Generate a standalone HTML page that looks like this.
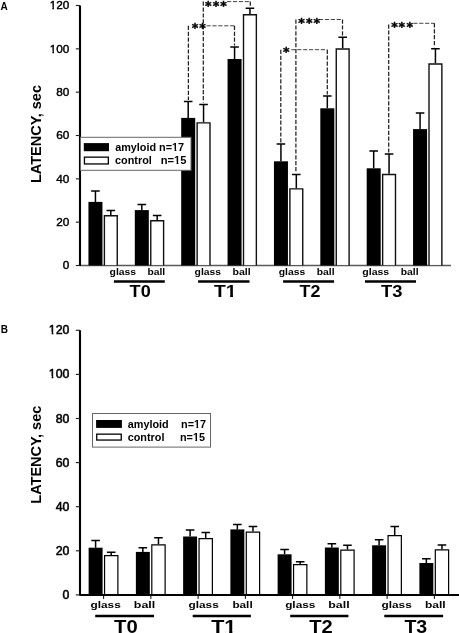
<!DOCTYPE html><html><head><meta charset="utf-8"><title>Latency</title><style>html,body{margin:0;padding:0;background:#fff;}svg{display:block;filter:blur(0.35px);}</style></head><body>
<svg width="459" height="633" viewBox="0 0 459 633">
<rect width="459" height="633" fill="#fff"/>
<path d="M79.5 265.5H451" stroke="#5a5a5a" stroke-width="1.4" fill="none"/>
<path d="M95.44 201.9V190.9M91.14 190.9H99.74" stroke="#000" stroke-width="1.5" fill="none"/>
<path d="M110.81 215.1V210.6M106.51 210.6H115.11" stroke="#000" stroke-width="1.5" fill="none"/>
<rect x="88.44" y="201.9" width="14.01" height="63.6" fill="#000"/>
<rect x="104.39" y="215.8" width="12.85" height="49" fill="#fff"/>
<path d="M104.39 265.5V215.8H117.24V265.5" fill="none" stroke="#111" stroke-width="1.4" stroke-linejoin="miter" stroke-linecap="butt"/>
<path d="M141.82 210.1V204.6M137.52 204.6H146.12" stroke="#000" stroke-width="1.5" fill="none"/>
<path d="M157.19 220V215.6M152.89 215.6H161.49" stroke="#000" stroke-width="1.5" fill="none"/>
<rect x="134.81" y="210.1" width="14.01" height="55.4" fill="#000"/>
<rect x="150.76" y="220.7" width="12.85" height="44.1" fill="#fff"/>
<path d="M150.76 265.5V220.7H163.61V265.5" fill="none" stroke="#111" stroke-width="1.4" stroke-linejoin="miter" stroke-linecap="butt"/>
<path d="M188.19 117.9V101.4M183.89 101.4H192.49" stroke="#000" stroke-width="1.5" fill="none"/>
<path d="M203.56 122.2V104.5M199.26 104.5H207.86" stroke="#000" stroke-width="1.5" fill="none"/>
<rect x="181.19" y="117.9" width="14.01" height="147.6" fill="#000"/>
<rect x="197.14" y="122.9" width="12.85" height="141.9" fill="#fff"/>
<path d="M197.14 265.5V122.9H209.99V265.5" fill="none" stroke="#111" stroke-width="1.4" stroke-linejoin="miter" stroke-linecap="butt"/>
<path d="M234.57 59V47.1M230.27 47.1H238.87" stroke="#000" stroke-width="1.5" fill="none"/>
<path d="M249.94 14.1V8.25M245.64 8.25H254.24" stroke="#000" stroke-width="1.5" fill="none"/>
<rect x="227.56" y="59" width="14.01" height="206.5" fill="#000"/>
<rect x="243.51" y="14.8" width="12.85" height="250" fill="#fff"/>
<path d="M243.51 265.5V14.8H256.36V265.5" fill="none" stroke="#111" stroke-width="1.4" stroke-linejoin="miter" stroke-linecap="butt"/>
<path d="M280.94 161.3V144.1M276.64 144.1H285.24" stroke="#000" stroke-width="1.5" fill="none"/>
<path d="M296.31 188.2V174.5M292.01 174.5H300.61" stroke="#000" stroke-width="1.5" fill="none"/>
<rect x="273.94" y="161.3" width="14.01" height="104.2" fill="#000"/>
<rect x="289.89" y="188.9" width="12.85" height="75.9" fill="#fff"/>
<path d="M289.89 265.5V188.9H302.74V265.5" fill="none" stroke="#111" stroke-width="1.4" stroke-linejoin="miter" stroke-linecap="butt"/>
<path d="M327.32 108.3V96M323.02 96H331.62" stroke="#000" stroke-width="1.5" fill="none"/>
<path d="M342.69 48.3V37.2M338.39 37.2H346.99" stroke="#000" stroke-width="1.5" fill="none"/>
<rect x="320.31" y="108.3" width="14.01" height="157.2" fill="#000"/>
<rect x="336.26" y="49" width="12.85" height="215.8" fill="#fff"/>
<path d="M336.26 265.5V49H349.11V265.5" fill="none" stroke="#111" stroke-width="1.4" stroke-linejoin="miter" stroke-linecap="butt"/>
<path d="M373.69 168.3V151M369.39 151H377.99" stroke="#000" stroke-width="1.5" fill="none"/>
<path d="M389.06 173.8V154M384.76 154H393.36" stroke="#000" stroke-width="1.5" fill="none"/>
<rect x="366.69" y="168.3" width="14.01" height="97.2" fill="#000"/>
<rect x="382.64" y="174.5" width="12.85" height="90.3" fill="#fff"/>
<path d="M382.64 265.5V174.5H395.49V265.5" fill="none" stroke="#111" stroke-width="1.4" stroke-linejoin="miter" stroke-linecap="butt"/>
<path d="M420.07 129.1V113M415.77 113H424.37" stroke="#000" stroke-width="1.5" fill="none"/>
<path d="M435.44 63.3V48.8M431.14 48.8H439.74" stroke="#000" stroke-width="1.5" fill="none"/>
<rect x="413.06" y="129.1" width="14.01" height="136.4" fill="#000"/>
<rect x="429.01" y="64" width="12.85" height="200.8" fill="#fff"/>
<path d="M429.01 265.5V64H441.86V265.5" fill="none" stroke="#111" stroke-width="1.4" stroke-linejoin="miter" stroke-linecap="butt"/>
<path d="M80 5.5V266" stroke="#000" stroke-width="2.1" fill="none"/>
<path d="M75.8 265.5H80" stroke="#222" stroke-width="1.15" fill="none"/>
<text transform="translate(69.4 269.39) scale(1.0 1)" text-anchor="end" font-family='"Liberation Sans", Arial, sans-serif' font-size="11.8" stroke="#000" stroke-width="0.42">0</text>
<path d="M75.8 222.17H80" stroke="#222" stroke-width="1.15" fill="none"/>
<text transform="translate(69.4 226.06) scale(1.0 1)" text-anchor="end" font-family='"Liberation Sans", Arial, sans-serif' font-size="11.8" stroke="#000" stroke-width="0.42">20</text>
<path d="M75.8 178.83H80" stroke="#222" stroke-width="1.15" fill="none"/>
<text transform="translate(69.4 182.73) scale(1.0 1)" text-anchor="end" font-family='"Liberation Sans", Arial, sans-serif' font-size="11.8" stroke="#000" stroke-width="0.42">40</text>
<path d="M75.8 135.5H80" stroke="#222" stroke-width="1.15" fill="none"/>
<text transform="translate(69.4 139.39) scale(1.0 1)" text-anchor="end" font-family='"Liberation Sans", Arial, sans-serif' font-size="11.8" stroke="#000" stroke-width="0.42">60</text>
<path d="M75.8 92.16H80" stroke="#222" stroke-width="1.15" fill="none"/>
<text transform="translate(69.4 96.06) scale(1.0 1)" text-anchor="end" font-family='"Liberation Sans", Arial, sans-serif' font-size="11.8" stroke="#000" stroke-width="0.42">80</text>
<path d="M75.8 48.83H80" stroke="#222" stroke-width="1.15" fill="none"/>
<clipPath id="nf1"><path clip-rule="evenodd" d="M-69.69 -35.4H50V23.6H-69.69Z M-19.69 -2.24H-17V1.18H-19.69Z M-15.42 -2.24H-12.61V1.18H-15.42Z"/></clipPath>
<text transform="translate(69.4 52.72) scale(1.0 1)" text-anchor="end" font-family='"Liberation Sans", Arial, sans-serif' font-size="11.8" stroke="#000" stroke-width="0.42" clip-path="url(#nf1)">100</text>
<path d="M75.8 5.5H80" stroke="#222" stroke-width="1.15" fill="none"/>
<clipPath id="nf2"><path clip-rule="evenodd" d="M-69.69 -35.4H50V23.6H-69.69Z M-19.69 -2.24H-17V1.18H-19.69Z M-15.42 -2.24H-12.61V1.18H-15.42Z"/></clipPath>
<text transform="translate(69.4 9.39) scale(1.0 1)" text-anchor="end" font-family='"Liberation Sans", Arial, sans-serif' font-size="11.8" stroke="#000" stroke-width="0.42" clip-path="url(#nf2)">120</text>
<path d="M79.5 594.9H459" stroke="#000" stroke-width="2.0" fill="none"/>
<path d="M95.6 547.7V540.6M91.3 540.6H99.9" stroke="#000" stroke-width="1.5" fill="none"/>
<path d="M111.21 555.1V552.2M106.91 552.2H115.51" stroke="#000" stroke-width="1.5" fill="none"/>
<rect x="88.62" y="547.7" width="13.95" height="47.2" fill="#000"/>
<rect x="104.55" y="555.7" width="13.31" height="38.2" fill="#fff"/>
<path d="M104.55 594.9V555.7H117.87V594.9" fill="none" stroke="#000" stroke-width="1.2" stroke-linejoin="miter" stroke-linecap="butt"/>
<path d="M142.85 551.9V547.8M138.55 547.8H147.15" stroke="#000" stroke-width="1.5" fill="none"/>
<path d="M158.46 544.2V537.8M154.16 537.8H162.76" stroke="#000" stroke-width="1.5" fill="none"/>
<rect x="135.88" y="551.9" width="13.95" height="43" fill="#000"/>
<rect x="151.81" y="544.8" width="13.31" height="49.1" fill="#fff"/>
<path d="M151.81 594.9V544.8H165.12V594.9" fill="none" stroke="#000" stroke-width="1.2" stroke-linejoin="miter" stroke-linecap="butt"/>
<path d="M190.1 536.5V530M185.8 530H194.4" stroke="#000" stroke-width="1.5" fill="none"/>
<path d="M205.71 538V532.4M201.41 532.4H210.01" stroke="#000" stroke-width="1.5" fill="none"/>
<rect x="183.12" y="536.5" width="13.95" height="58.4" fill="#000"/>
<rect x="199.06" y="538.6" width="13.31" height="55.3" fill="#fff"/>
<path d="M199.06 594.9V538.6H212.37V594.9" fill="none" stroke="#000" stroke-width="1.2" stroke-linejoin="miter" stroke-linecap="butt"/>
<path d="M237.35 529.4V524.4M233.05 524.4H241.65" stroke="#000" stroke-width="1.5" fill="none"/>
<path d="M252.96 531.5V526.6M248.66 526.6H257.26" stroke="#000" stroke-width="1.5" fill="none"/>
<rect x="230.38" y="529.4" width="13.95" height="65.5" fill="#000"/>
<rect x="246.31" y="532.1" width="13.31" height="61.8" fill="#fff"/>
<path d="M246.31 594.9V532.1H259.61V594.9" fill="none" stroke="#000" stroke-width="1.2" stroke-linejoin="miter" stroke-linecap="butt"/>
<path d="M284.6 554.3V549.6M280.3 549.6H288.9" stroke="#000" stroke-width="1.5" fill="none"/>
<path d="M300.21 564V561.8M295.91 561.8H304.51" stroke="#000" stroke-width="1.5" fill="none"/>
<rect x="277.62" y="554.3" width="13.95" height="40.6" fill="#000"/>
<rect x="293.56" y="564.6" width="13.31" height="29.3" fill="#fff"/>
<path d="M293.56 594.9V564.6H306.86V594.9" fill="none" stroke="#000" stroke-width="1.2" stroke-linejoin="miter" stroke-linecap="butt"/>
<path d="M331.85 547.5V543.8M327.55 543.8H336.15" stroke="#000" stroke-width="1.5" fill="none"/>
<path d="M347.46 549.6V545.3M343.16 545.3H351.76" stroke="#000" stroke-width="1.5" fill="none"/>
<rect x="324.88" y="547.5" width="13.95" height="47.4" fill="#000"/>
<rect x="340.81" y="550.2" width="13.31" height="43.7" fill="#fff"/>
<path d="M340.81 594.9V550.2H354.11V594.9" fill="none" stroke="#000" stroke-width="1.2" stroke-linejoin="miter" stroke-linecap="butt"/>
<path d="M379.1 545.3V539.7M374.8 539.7H383.4" stroke="#000" stroke-width="1.5" fill="none"/>
<path d="M394.71 535V526.6M390.41 526.6H399.01" stroke="#000" stroke-width="1.5" fill="none"/>
<rect x="372.12" y="545.3" width="13.95" height="49.6" fill="#000"/>
<rect x="388.06" y="535.6" width="13.31" height="58.3" fill="#fff"/>
<path d="M388.06 594.9V535.6H401.36V594.9" fill="none" stroke="#000" stroke-width="1.2" stroke-linejoin="miter" stroke-linecap="butt"/>
<path d="M426.35 563V558.7M422.05 558.7H430.65" stroke="#000" stroke-width="1.5" fill="none"/>
<path d="M441.96 549.2V545.1M437.66 545.1H446.26" stroke="#000" stroke-width="1.5" fill="none"/>
<rect x="419.38" y="563" width="13.95" height="31.9" fill="#000"/>
<rect x="435.31" y="549.8" width="13.31" height="44.1" fill="#fff"/>
<path d="M435.31 594.9V549.8H448.61V594.9" fill="none" stroke="#000" stroke-width="1.2" stroke-linejoin="miter" stroke-linecap="butt"/>
<path d="M80 330.3V595.4" stroke="#000" stroke-width="2.1" fill="none"/>
<path d="M75.8 594.9H80" stroke="#222" stroke-width="1.15" fill="none"/>
<text transform="translate(69.4 598.96) scale(1.0 1)" text-anchor="end" font-family='"Liberation Sans", Arial, sans-serif' font-size="12.3" stroke="#000" stroke-width="0.55">0</text>
<path d="M75.8 550.8H80" stroke="#222" stroke-width="1.15" fill="none"/>
<text transform="translate(69.4 554.86) scale(1.0 1)" text-anchor="end" font-family='"Liberation Sans", Arial, sans-serif' font-size="12.3" stroke="#000" stroke-width="0.55">20</text>
<path d="M75.8 506.7H80" stroke="#222" stroke-width="1.15" fill="none"/>
<text transform="translate(69.4 510.76) scale(1.0 1)" text-anchor="end" font-family='"Liberation Sans", Arial, sans-serif' font-size="12.3" stroke="#000" stroke-width="0.55">40</text>
<path d="M75.8 462.6H80" stroke="#222" stroke-width="1.15" fill="none"/>
<text transform="translate(69.4 466.66) scale(1.0 1)" text-anchor="end" font-family='"Liberation Sans", Arial, sans-serif' font-size="12.3" stroke="#000" stroke-width="0.55">60</text>
<path d="M75.8 418.5H80" stroke="#222" stroke-width="1.15" fill="none"/>
<text transform="translate(69.4 422.56) scale(1.0 1)" text-anchor="end" font-family='"Liberation Sans", Arial, sans-serif' font-size="12.3" stroke="#000" stroke-width="0.55">80</text>
<path d="M75.8 374.4H80" stroke="#222" stroke-width="1.15" fill="none"/>
<clipPath id="nf3"><path clip-rule="evenodd" d="M-70.52 -36.9H50V24.6H-70.52Z M-20.52 -2.34H-17.71V1.23H-20.52Z M-16.08 -2.34H-13.14V1.23H-16.08Z"/></clipPath>
<text transform="translate(69.4 378.46) scale(1.0 1)" text-anchor="end" font-family='"Liberation Sans", Arial, sans-serif' font-size="12.3" stroke="#000" stroke-width="0.55" clip-path="url(#nf3)">100</text>
<path d="M75.8 330.3H80" stroke="#222" stroke-width="1.15" fill="none"/>
<clipPath id="nf4"><path clip-rule="evenodd" d="M-70.52 -36.9H50V24.6H-70.52Z M-20.52 -2.34H-17.71V1.23H-20.52Z M-16.08 -2.34H-13.14V1.23H-16.08Z"/></clipPath>
<text transform="translate(69.4 334.36) scale(1.0 1)" text-anchor="end" font-family='"Liberation Sans", Arial, sans-serif' font-size="12.3" stroke="#000" stroke-width="0.55" clip-path="url(#nf4)">120</text>
<path d="M103.62 594.9V598.9" stroke="#000" stroke-width="1" fill="none"/>
<path d="M150.88 594.9V598.9" stroke="#000" stroke-width="1" fill="none"/>
<path d="M198.12 594.9V598.9" stroke="#000" stroke-width="1" fill="none"/>
<path d="M245.38 594.9V598.9" stroke="#000" stroke-width="1" fill="none"/>
<path d="M292.62 594.9V598.9" stroke="#000" stroke-width="1" fill="none"/>
<path d="M339.88 594.9V598.9" stroke="#000" stroke-width="1" fill="none"/>
<path d="M387.12 594.9V598.9" stroke="#000" stroke-width="1" fill="none"/>
<path d="M434.38 594.9V598.9" stroke="#000" stroke-width="1" fill="none"/>
<text transform="translate(40.9 134.05) rotate(-90) scale(1 1.05)" text-anchor="middle" font-family='"Liberation Sans", Arial, sans-serif' font-weight="bold" font-size="14.5">LATENCY, sec</text>
<text transform="translate(40.9 454.7) rotate(-90) scale(1 1.05)" text-anchor="middle" font-family='"Liberation Sans", Arial, sans-serif' font-weight="bold" font-size="14.5">LATENCY, sec</text>
<text x="0.6" y="9.6" font-family='"Liberation Sans", Arial, sans-serif' font-weight="bold" font-size="10">A</text>
<text x="0.8" y="332.6" font-family='"Liberation Sans", Arial, sans-serif' font-weight="bold" font-size="10">B</text>
<rect x="80.5" y="137.3" width="110.5" height="33" fill="#fff" stroke="#666" stroke-width="1"/>
<rect x="83.8" y="143.1" width="25.2" height="8.1" fill="#000"/>
<rect x="84.45" y="157.15" width="23.9" height="6.8" fill="#fff" stroke="#000" stroke-width="1.3"/>
<clipPath id="nf5"><path clip-rule="evenodd" d="M-50 -31.2H116.18V20.8H-50Z M54.62 -1.98H56.96V1.04H54.62Z M58.62 -1.98H60.86V1.04H58.62Z"/></clipPath>
<text transform="translate(115.17 150.8) scale(1.043 1)" font-family='"Liberation Sans", Arial, sans-serif' font-weight="bold" font-size="10.40" clip-path="url(#nf5)">amyloid n=17</text>
<text transform="translate(115.07 163.8) scale(1.043 1)" font-family='"Liberation Sans", Arial, sans-serif' font-weight="bold" font-size="10.40">control</text>
<clipPath id="nf6"><path clip-rule="evenodd" d="M-50 -31.2H73.99V20.8H-50Z M12.43 -1.98H14.77V1.04H12.43Z M16.43 -1.98H18.67V1.04H16.43Z"/></clipPath>
<text transform="translate(160.72 163.8) scale(1.075 1)" font-family='"Liberation Sans", Arial, sans-serif' font-weight="bold" font-size="10.40" clip-path="url(#nf6)">n=15</text>
<rect x="92.5" y="413.5" width="118" height="33.6" fill="#fff" stroke="#666" stroke-width="1"/>
<rect x="96.1" y="420" width="25.8" height="7.9" fill="#000"/>
<rect x="96.75" y="434.15" width="24.5" height="5.9" fill="#fff" stroke="#000" stroke-width="1.3"/>
<text transform="translate(127.77 427.5) scale(1.075 1)" font-family='"Liberation Sans", Arial, sans-serif' font-weight="bold" font-size="10.10">amyloid</text>
<clipPath id="nf7"><path clip-rule="evenodd" d="M-50 -30.3H73.3V20.2H-50Z M12.07 -1.92H14.34V1.01H12.07Z M15.96 -1.92H18.13V1.01H15.96Z"/></clipPath>
<text transform="translate(181.04 427.5) scale(1.075 1)" font-family='"Liberation Sans", Arial, sans-serif' font-weight="bold" font-size="10.10" clip-path="url(#nf7)">n=17</text>
<text transform="translate(127.67 440.7) scale(1.075 1)" font-family='"Liberation Sans", Arial, sans-serif' font-weight="bold" font-size="10.10">control</text>
<clipPath id="nf8"><path clip-rule="evenodd" d="M-50 -30.3H73.3V20.2H-50Z M12.07 -1.92H14.34V1.01H12.07Z M15.96 -1.92H18.13V1.01H15.96Z"/></clipPath>
<text transform="translate(179.94 440.7) scale(1.075 1)" font-family='"Liberation Sans", Arial, sans-serif' font-weight="bold" font-size="10.10" clip-path="url(#nf8)">n=15</text>
<text transform="translate(109.58 275.2) scale(1.245 1)" font-family='"Liberation Sans", Arial, sans-serif' font-weight="bold" font-size="8.36">glass</text>
<text transform="translate(194.59 275.2) scale(1.240 1)" font-family='"Liberation Sans", Arial, sans-serif' font-weight="bold" font-size="8.36">glass</text>
<text transform="translate(278.69 275.2) scale(1.240 1)" font-family='"Liberation Sans", Arial, sans-serif' font-weight="bold" font-size="8.36">glass</text>
<text transform="translate(362.28 275.2) scale(1.260 1)" font-family='"Liberation Sans", Arial, sans-serif' font-weight="bold" font-size="8.36">glass</text>
<text transform="translate(147.48 275.4) scale(1.215 1)" font-family='"Liberation Sans", Arial, sans-serif' font-weight="bold" font-size="8.49">ball</text>
<text transform="translate(232.46 275.4) scale(1.244 1)" font-family='"Liberation Sans", Arial, sans-serif' font-weight="bold" font-size="8.49">ball</text>
<text transform="translate(316.67 275.4) scale(1.222 1)" font-family='"Liberation Sans", Arial, sans-serif' font-weight="bold" font-size="8.49">ball</text>
<text transform="translate(400.67 275.4) scale(1.222 1)" font-family='"Liberation Sans", Arial, sans-serif' font-weight="bold" font-size="8.49">ball</text>
<path d="M113.9 281.45H164.8" stroke="#000" stroke-width="2.6"/>
<text transform="translate(129.62 296.95) scale(1.054 1)" font-family='"Liberation Sans", Arial, sans-serif' font-weight="bold" font-size="17.14">T0</text>
<path d="M198.1 281.45H249.5" stroke="#000" stroke-width="2.6"/>
<clipPath id="nf9"><path clip-rule="evenodd" d="M-20 -40H60V20H-20Z M11.39 -2.43H14.54V1.74H11.39Z M17.11 -2.43H20.87V1.74H17.11Z"/></clipPath>
<text transform="translate(214.01 296.95) scale(1.109 1)" font-family='"Liberation Sans", Arial, sans-serif' font-weight="bold" font-size="17.39" clip-path="url(#nf9)">T1</text>
<path d="M283.1 281.45H334.1" stroke="#000" stroke-width="2.6"/>
<text transform="translate(299.52 296.95) scale(1.042 1)" font-family='"Liberation Sans", Arial, sans-serif' font-weight="bold" font-size="17.14">T2</text>
<path d="M365 281.45H416" stroke="#000" stroke-width="2.6"/>
<text transform="translate(381.02 296.95) scale(1.073 1)" font-family='"Liberation Sans", Arial, sans-serif' font-weight="bold" font-size="17.14">T3</text>
<text transform="translate(90.53 607.8) scale(1.308 1)" font-family='"Liberation Sans", Arial, sans-serif' font-weight="bold" font-size="9.04">glass</text>
<text transform="translate(188.53 607.8) scale(1.308 1)" font-family='"Liberation Sans", Arial, sans-serif' font-weight="bold" font-size="9.04">glass</text>
<text transform="translate(285.13 607.8) scale(1.308 1)" font-family='"Liberation Sans", Arial, sans-serif' font-weight="bold" font-size="9.04">glass</text>
<text transform="translate(381.53 607.8) scale(1.308 1)" font-family='"Liberation Sans", Arial, sans-serif' font-weight="bold" font-size="9.04">glass</text>
<text transform="translate(133.83 607.9) scale(1.352 1)" font-family='"Liberation Sans", Arial, sans-serif' font-weight="bold" font-size="9.18">ball</text>
<text transform="translate(232.38 607.9) scale(1.283 1)" font-family='"Liberation Sans", Arial, sans-serif' font-weight="bold" font-size="9.18">ball</text>
<text transform="translate(328.23 607.9) scale(1.352 1)" font-family='"Liberation Sans", Arial, sans-serif' font-weight="bold" font-size="9.18">ball</text>
<text transform="translate(424.96 607.9) scale(1.310 1)" font-family='"Liberation Sans", Arial, sans-serif' font-weight="bold" font-size="9.18">ball</text>
<path d="M95.2 616H154" stroke="#000" stroke-width="2.6"/>
<text transform="translate(114 632.9) scale(1.109 1)" font-family='"Liberation Sans", Arial, sans-serif' font-weight="bold" font-size="18.29">T0</text>
<path d="M192.7 616H250.9" stroke="#000" stroke-width="2.6"/>
<clipPath id="nf10"><path clip-rule="evenodd" d="M-20 -40H60V20H-20Z M12.15 -2.6H15.51V1.86H12.15Z M18.25 -2.6H22.26V1.86H18.25Z"/></clipPath>
<text transform="translate(211.18 632.9) scale(1.161 1)" font-family='"Liberation Sans", Arial, sans-serif' font-weight="bold" font-size="18.55" clip-path="url(#nf10)">T1</text>
<path d="M290.2 616H348.4" stroke="#000" stroke-width="2.6"/>
<text transform="translate(309.3 632.9) scale(1.104 1)" font-family='"Liberation Sans", Arial, sans-serif' font-weight="bold" font-size="18.29">T2</text>
<path d="M384.3 616H443.1" stroke="#000" stroke-width="2.6"/>
<text transform="translate(404.4 632.9) scale(1.069 1)" font-family='"Liberation Sans", Arial, sans-serif' font-weight="bold" font-size="18.29">T3</text>
<path d="M188.4 25.8V99.9" stroke="#222" stroke-width="1.25" fill="none" stroke-dasharray="4.2 1.7"/>
<path d="M206.5 25.8H234.5" stroke="#444" stroke-width="1" fill="none" stroke-dasharray="4.2 1.7"/>
<path d="M234.5 25.8V45.6" stroke="#222" stroke-width="1.25" fill="none" stroke-dasharray="4.2 1.7"/>
<path d="M203.3 1.6V102.6" stroke="#222" stroke-width="1.25" fill="none" stroke-dasharray="4.2 1.7"/>
<path d="M227 1.6H250.3" stroke="#444" stroke-width="1" fill="none" stroke-dasharray="4.2 1.7"/>
<path d="M250.3 1.6V7.2" stroke="#222" stroke-width="1.25" fill="none" stroke-dasharray="4.2 1.7"/>
<path d="M280.8 49.8V142.6" stroke="#222" stroke-width="1.25" fill="none" stroke-dasharray="4.2 1.7"/>
<path d="M291.3 49.7H327.3" stroke="#444" stroke-width="1" fill="none" stroke-dasharray="4.2 1.7"/>
<path d="M327.3 49.7V94.5" stroke="#222" stroke-width="1.25" fill="none" stroke-dasharray="4.2 1.7"/>
<path d="M295.9 19.5V173" stroke="#222" stroke-width="1.25" fill="none" stroke-dasharray="4.2 1.7"/>
<path d="M319 19.5H342.5" stroke="#444" stroke-width="1" fill="none" stroke-dasharray="4.2 1.7"/>
<path d="M342.5 19.5V35.8" stroke="#222" stroke-width="1.25" fill="none" stroke-dasharray="4.2 1.7"/>
<path d="M388.7 24.5V152.5" stroke="#222" stroke-width="1.25" fill="none" stroke-dasharray="4.2 1.7"/>
<path d="M413.3 23.3H434.4" stroke="#444" stroke-width="1" fill="none" stroke-dasharray="4.2 1.7"/>
<path d="M434.4 23.3V47.3" stroke="#222" stroke-width="1.25" fill="none" stroke-dasharray="4.2 1.7"/>
<text x="194.9 202.5" y="32.35" text-anchor="middle" font-family="DejaVu Sans" font-weight="bold" font-size="12.5" stroke="#000" stroke-width="0.45">**</text>
<text x="208.3 216 223.6" y="9.55" text-anchor="middle" font-family="DejaVu Sans" font-weight="bold" font-size="12.5" stroke="#000" stroke-width="0.45">***</text>
<text x="286.3" y="56.35" text-anchor="middle" font-family="DejaVu Sans" font-weight="bold" font-size="12.5" stroke="#000" stroke-width="0.45">*</text>
<text x="301.4 309.3 316.8" y="26.95" text-anchor="middle" font-family="DejaVu Sans" font-weight="bold" font-size="12.5" stroke="#000" stroke-width="0.45">***</text>
<text x="394.4 401.8 409.8" y="31.35" text-anchor="middle" font-family="DejaVu Sans" font-weight="bold" font-size="12.5" stroke="#000" stroke-width="0.45">***</text>
</svg></body></html>
